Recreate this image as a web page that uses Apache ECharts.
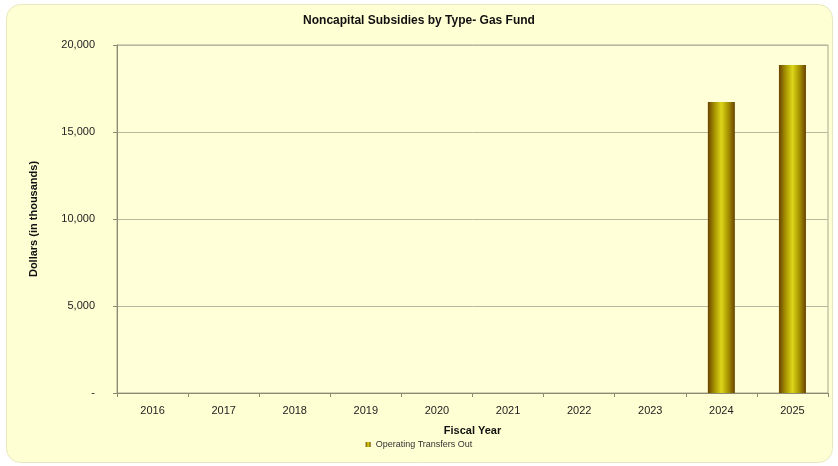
<!DOCTYPE html>
<html><head><meta charset="utf-8">
<script src="https://cdn.jsdelivr.net/npm/echarts@6/dist/echarts.min.js"></script>
<style>html,body{margin:0;padding:0;background:#fff;}#c{width:838px;height:466px;}</style>
</head><body><div id="c"></div>
<script>
const categories = ['2016','2017','2018','2019','2020','2021','2022','2023','2024','2025'];
const transfersOut = [0,0,0,0,0,0,0,0,16720,18850];
const seriesName = 'Operating Transfers Out';
const chart = echarts.init(document.getElementById('c'));
const barGrad = new echarts.graphic.LinearGradient(0,0,1,0,[
  {offset:0,color:'#6a4300'},{offset:0.25,color:'#a89400'},{offset:0.5,color:'#dcd61a'},
  {offset:0.75,color:'#a89400'},{offset:1,color:'#6a4300'}]);
chart.setOption({
  backgroundColor:'#ffffff',
  graphic:[{type:'rect',left:6,top:4,shape:{width:826,height:458,r:14},
    style:{fill:'#ffffd4',stroke:'#e8e8c0',lineWidth:1},z:-10}],
  title:{text:'Noncapital Subsidies by Type- Gas Fund',left:'center',top:10,
    textStyle:{fontFamily:'Liberation Sans, Arial',fontSize:12,fontWeight:'bold',color:'#111'}},
  legend:{bottom:12,left:'center',itemWidth:5,itemHeight:5,icon:'rect',
    textStyle:{fontFamily:'Liberation Sans, Arial',fontSize:9,color:'#333'},data:[seriesName]},
  grid:{left:117,right:10,top:45,bottom:73,show:true,backgroundColor:'#ffffd8',borderColor:'#a8a890',borderWidth:1},
  xAxis:{type:'category',data:categories,
    name:'Fiscal Year',nameLocation:'middle',nameGap:32,
    nameTextStyle:{fontFamily:'Liberation Sans, Arial',fontSize:11,fontWeight:'bold',color:'#111'},
    axisLine:{lineStyle:{color:'#8a8a70'}},axisTick:{show:true,length:4,lineStyle:{color:'#8a8a70'}},
    axisLabel:{fontFamily:'Liberation Sans, Arial',fontSize:11,color:'#222',margin:12}},
  yAxis:{type:'value',min:0,max:20000,interval:5000,
    name:'Dollars (in thousands)',nameLocation:'middle',nameGap:78,nameRotate:90,
    nameTextStyle:{fontFamily:'Liberation Sans, Arial',fontSize:11,fontWeight:'bold',color:'#111'},
    axisLine:{show:true,lineStyle:{color:'#8a8a70'}},axisTick:{show:true,length:4,lineStyle:{color:'#8a8a70'}},
    splitLine:{lineStyle:{color:'#b8b8a0',width:1}},
    axisLabel:{fontFamily:'Liberation Sans, Arial',fontSize:11,color:'#222',margin:22,
      formatter:v=>v===0?'-':v.toLocaleString('en-US')}},
  series:[{name:seriesName,type:'bar',data:transfersOut,barWidth:'38%',
    itemStyle:{color:barGrad,borderWidth:0}}]
});
</script></body></html>
